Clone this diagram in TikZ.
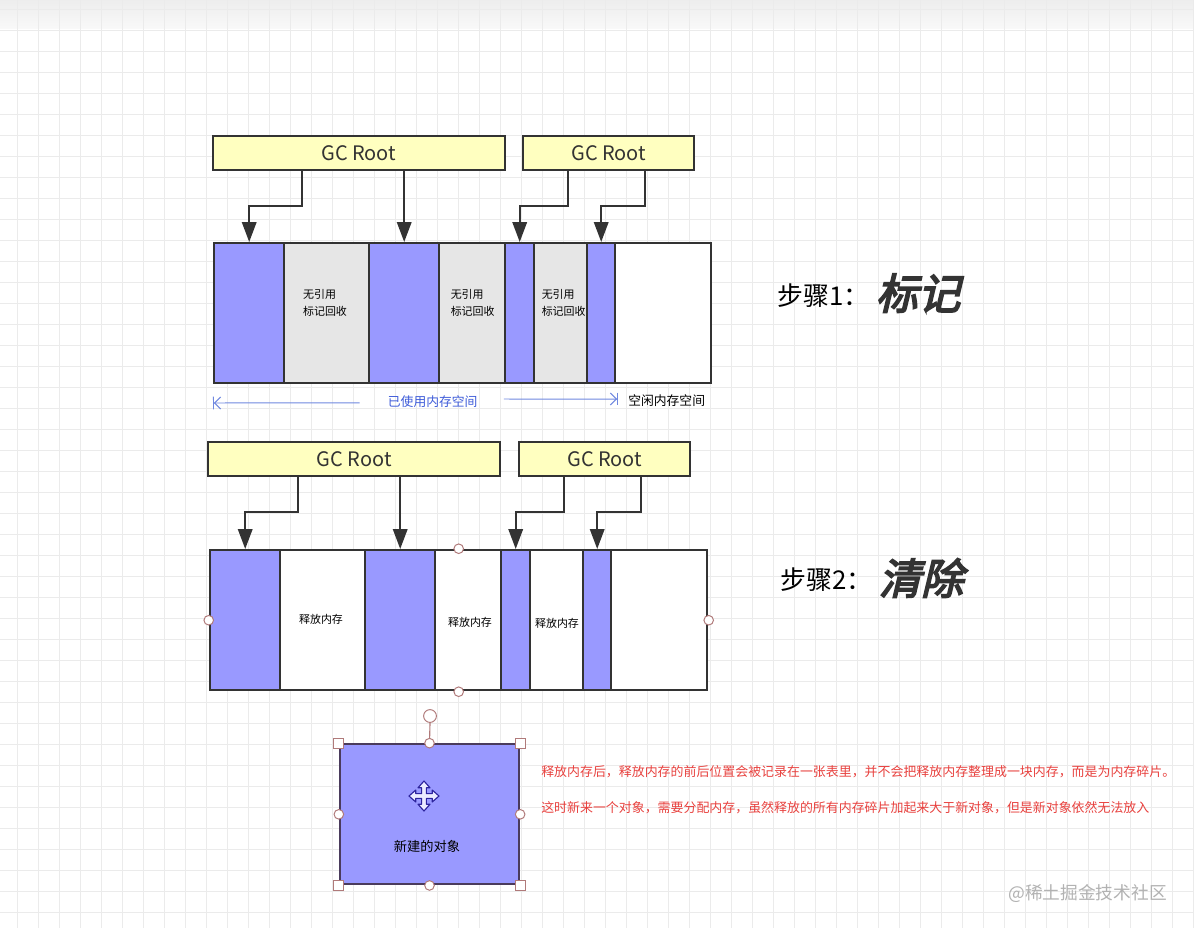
\documentclass[tikz,border=0pt]{standalone}
\usepackage{fontspec}
\setmainfont{Noto Sans CJK SC}
\newfontfamily\heavyfont[FakeSlant=0.24,FakeBold=4]{Noto Sans CJK SC}
\usetikzlibrary{arrows.meta, positioning, fit}

\definecolor{ink}{HTML}{333333}
\definecolor{usedblue}{RGB}{153,153,255}
\definecolor{markgray}{HTML}{E6E6E6}
\definecolor{rootyellow}{RGB}{255,255,192}
\definecolor{handle}{RGB}{176,122,122}
\definecolor{objline}{HTML}{4A3B5C}
\definecolor{spanblue}{HTML}{3D5BD9}
\definecolor{spanline}{HTML}{7088E0}
\definecolor{notered}{HTML}{E8413E}
\definecolor{gridgray}{HTML}{EBEBEB}

\begin{document}
\begin{tikzpicture}[x=0.025cm, y=-0.025cm,
    gcroot/.style={draw=ink, line width=1.6pt, fill=rootyellow, minimum height=0.85cm, inner sep=0pt, text=ink, font=\fontsize{14.2}{17}\selectfont},
    seg/.style={draw=ink, line width=1.7pt, anchor=north west, minimum height=3.5cm, inner sep=0pt},
    ref/.style={draw=ink, line width=1.6pt, -{Triangle[length=0.5cm, width=0.36cm]}},
    note/.style={align=left, inner sep=0pt, font=\fontsize{7.8}{12}\selectfont},
    span/.style={draw=spanline, line width=0.7pt, -{Straight Barb[length=0.15cm, width=0.3cm] Bar[width=0.32cm]}},
    steplbl/.style={inner sep=0pt, text=black, font=\fontsize{18.4}{22}\selectfont},
    stepname/.style={inner sep=0pt, text=ink, font=\heavyfont\fontsize{30}{34}\selectfont},
    hdl/.style={circle, draw=handle, fill=white, line width=0.7pt, minimum size=0.24cm, inner sep=0pt},
    corner/.style={rectangle, draw=handle, fill=white, line width=0.7pt, minimum size=0.25cm, inner sep=0pt}]
    \useasboundingbox (0,0) rectangle (1194,928);
    % Background grid
    \fill[white] (0,0) rectangle (1194,928);
    \fill[top color=gray!14, bottom color=gray!5] (0,0) rectangle (1194,28);
    \foreach \x in {17,38,...,1194} \draw[gridgray, line width=0.7pt] (\x,0) -- (\x,928);
    \foreach \y in {9,30,...,928} \draw[gridgray, line width=0.7pt] (0,\y) -- (1194,\y);

    % Step 1: mark
    \node[gcroot, minimum width=7.3cm] (gc1) at (358.8,153) {GC Root};
    \node[gcroot, minimum width=4.275cm] (gc2) at (608.8,153) {GC Root};

    \node[seg, fill=usedblue, minimum width=1.75cm] (m1) at (213,242) {};
    \node[seg, fill=markgray, minimum width=2.125cm] (m2) at (283,242) {};
    \node[seg, fill=usedblue, minimum width=1.75cm] (m3) at (368,242) {};
    \node[seg, fill=markgray, minimum width=1.65cm] (m4) at (438,242) {};
    \node[seg, fill=usedblue, minimum width=0.725cm] (m5) at (504,242) {};
    \node[seg, fill=markgray, minimum width=1.325cm] (m6) at (533,242) {};
    \node[seg, fill=usedblue, minimum width=0.7cm] (m7) at (586,242) {};
    \node[seg, fill=white, minimum width=2.4cm] (m8) at (614,242) {};

    \node[note] (t2) at (325,303) {无引用\\标记回收};
    \node[note] (t4) at (472.7,303) {无引用\\标记回收};
    \node[note] (t6) at (563.7,303) {无引用\\标记回收};

    \draw[ref] (302,0 |- gc1.south) -- (302,206) -| (m1.north);
    \draw[ref] (gc1.south -| m3.north) -- (m3.north);
    \draw[ref] (568,0 |- gc2.south) -- (568,206) -| (m5.north);
    \draw[ref] (645,0 |- gc2.south) -- (645,206) -| (m7.north);

    % Used / free space
    \node[inner sep=0pt, text=spanblue, font=\fontsize{9.1}{11}\selectfont] (used) at (432.7,402) {已使用内存空间};
    \coordinate (usedL) at (213,403);
    \coordinate (usedR) at (618,399);
    \draw[span] ([xshift=-0.7cm, yshift=-0.02cm]used.west) -- (usedL);
    \draw[span] ([xshift=0.65cm, yshift=0.075cm]used.east) -- (usedR);
    \node[inner sep=0pt, anchor=west, font=\fontsize{9.1}{11}\selectfont] (free) at (628,401) {空闲内存空间};

    \node[steplbl, anchor=west] (s1) at (777,296) {步骤1：};
    \node[stepname, anchor=west, right=0.15cm of s1, yshift=0.07cm] (n1) {标记};

    % Step 2: sweep
    \node[gcroot, minimum width=7.3cm] (gc3) at (354.2,459.3) {GC Root};
    \node[gcroot, minimum width=4.275cm] (gc4) at (604.7,459.3) {GC Root};

    \node[seg, fill=usedblue, minimum width=1.75cm] (b1) at (209,549) {};
    \node[seg, fill=white, minimum width=2.125cm] (b2) at (279,549) {};
    \node[seg, fill=usedblue, minimum width=1.75cm] (b3) at (364,549) {};
    \node[seg, fill=white, minimum width=1.65cm] (b4) at (434,549) {};
    \node[seg, fill=usedblue, minimum width=0.725cm] (b5) at (500,549) {};
    \node[seg, fill=white, minimum width=1.325cm] (b6) at (529,549) {};
    \node[seg, fill=usedblue, minimum width=0.7cm] (b7) at (582,549) {};
    \node[seg, fill=white, minimum width=2.4cm] (b8) at (610,549) {};

    \node[note] (r2) at (321,619) {释放内存};
    \node[note] (r4) at (470,622) {释放内存};
    \node[note] (r6) at (557,623) {释放内存};

    \draw[ref] (298,0 |- gc3.south) -- (298,512) -| (b1.north);
    \draw[ref] (gc3.south -| b3.north) -- (b3.north);
    \draw[ref] (564,0 |- gc4.south) -- (564,512) -| (b5.north);
    \draw[ref] (641,0 |- gc4.south) -- (641,512) -| (b7.north);

    % Selection handles of the bar
    \node[fit=(b1)(b8), inner sep=0pt] (bar2) {};
    \node[hdl] (hw) at (bar2.west) {};
    \node[hdl] (he) at (bar2.east) {};
    \node[hdl] (hn) at (bar2.north) {};
    \node[hdl] (hs) at (bar2.south) {};

    \node[steplbl, anchor=west] (s2) at (780,580) {步骤2：};
    \node[stepname, anchor=west, right=0.15cm of s2, yshift=0.05cm] (n2) {清除};

    % New object
    \node[draw=objline, line width=1.6pt, fill=usedblue, minimum width=4.475cm, minimum height=3.5cm, inner sep=0pt] (obj) at (429.5,814.3) {};
    \node[inner sep=0pt, font=\fontsize{9.4}{11}\selectfont] (objtxt) at (427,846) {新建的对象};
    \begin{scope}[shift={(424,796)}, scale=1.5]
        \filldraw[fill=white!92!blue, draw=objline!60!blue, line width=0.8pt, line join=round]
            (1.6,1.6) -- (1.6,5.5) -- (4,5.5) -- (0,10) -- (-4,5.5) -- (-1.6,5.5) -- (-1.6,1.6)
            -- (-5.5,1.6) -- (-5.5,4) -- (-10,0) -- (-5.5,-4) -- (-5.5,-1.6) -- (-1.6,-1.6)
            -- (-1.6,-5.5) -- (-4,-5.5) -- (0,-10) -- (4,-5.5) -- (1.6,-5.5) -- (1.6,-1.6)
            -- (5.5,-1.6) -- (5.5,-4) -- (10,0) -- (5.5,4) -- (5.5,1.6) -- cycle;
    \end{scope}
    \node[hdl, minimum size=0.32cm] (rot) at (430,716) {};
    \draw[handle, line width=0.8pt] (rot.south) -- (obj.north);
    \node[hdl] (on) at (obj.north) {};
    \node[hdl] (os) at (obj.south) {};
    \node[hdl] (ow) at (obj.west) {};
    \node[hdl] (oe) at (obj.east) {};
    \node[corner] (cnw) at (obj.north west) {};
    \node[corner] (cne) at (obj.north east) {};
    \node[corner] (csw) at (obj.south west) {};
    \node[corner] (cse) at (obj.south east) {};

    % Explanation
    \node[anchor=west, inner sep=0pt, text=notered, font=\fontsize{9.2}{12}\selectfont] (why1) at (541,772) {释放内存后，释放内存的前后位置会被记录在一张表里，并不会把释放内存整理成一块内存，而是为内存碎片。};
    \node[anchor=west, inner sep=0pt, text=notered, font=\fontsize{9.2}{12}\selectfont] (why2) at (541,808) {这时新来一个对象，需要分配内存，虽然释放的所有内存碎片加起来大于新对象，但是新对象依然无法放入};

    \node[anchor=west, inner sep=0pt, text=gray!60, font=\fontsize{12.6}{15}\selectfont] (mark) at (1008,893) {@稀土掘金技术社区};
\end{tikzpicture}
\end{document}
